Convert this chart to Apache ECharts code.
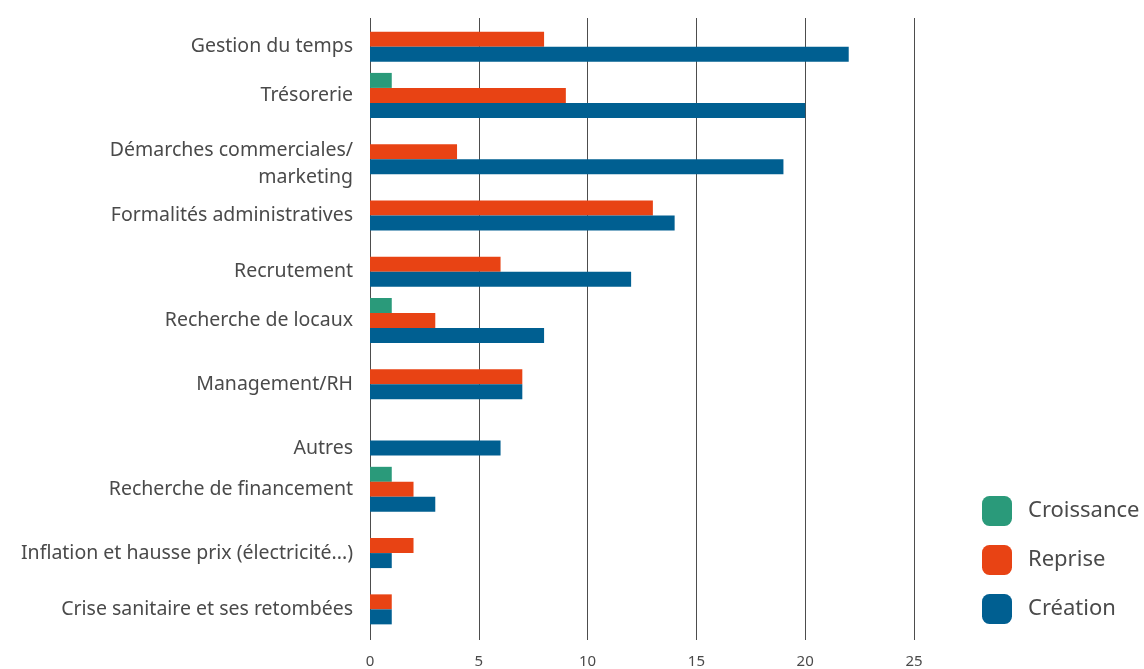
<!DOCTYPE html>
<html><head><meta charset="utf-8">
<script src="https://cdn.jsdelivr.net/npm/echarts@6/dist/echarts.min.js"></script>
<style>html,body{margin:0;padding:0;background:#fff}#c{width:1144px;height:669px}</style>
</head><body><div id="c"></div>
<script>
const categories = ["Gestion du temps","Trésorerie","Démarches commerciales/\nmarketing","Formalités administratives","Recrutement","Recherche de locaux","Management/RH","Autres","Recherche de financement","Inflation et hausse prix (électricité...)","Crise sanitaire et ses retombées"];
const croissance = [0,1,0,0,0,1,0,0,1,0,0];
const reprise = [8,9,4,13,6,3,7,0,2,2,1];
const creation = [22,20,19,14,12,8,7,6,3,1,1];
const xTicks = [0,5,10,15,20,25];
const seriesNames = ["Croissance","Reprise","Création"];
const colors = ["#2a9a7a","#e84314","#005f91"];

const FONT = "Noto Sans";
const allSeries = [croissance, reprise, creation];
function missingLeading(i){ let n=0; for (const s of allSeries){ if (s[i]) break; n++; } return n; }

const base = {fontSize:19.5, color:'#4a4a4a', fontFamily:FONT, lineHeight:26};
const rich = {};
for (let p=0; p<=40; p++) rich['p'+p] = Object.assign({}, base, {padding:[p,0,0,0]});

const chart = echarts.init(document.getElementById('c'));
chart.setOption({
  animation:false,
  textStyle:{fontFamily:FONT},
  legend:{
    orient:'vertical', left:977, top:491, itemWidth:30, itemHeight:30, itemGap:19,
    icon:'roundRect',
    textStyle:{fontSize:22, color:'#4a4a4a', fontFamily:FONT, padding:[0,0,0,11]},
    data:seriesNames
  },
  grid:[
    {left:370, right:230, top:18, bottom:29},
    {left:370, right:230, top:11, bottom:39}
  ],
  xAxis:[
    {gridIndex:0, type:'value', min:xTicks[0], max:xTicks[xTicks.length-1], interval:xTicks[1]-xTicks[0],
     axisLine:{show:false}, axisTick:{show:false},
     splitLine:{show:true, lineStyle:{color:'#4d4d4d', width:1}},
     axisLabel:{fontSize:15, color:'#4a4a4a', margin:14, fontFamily:FONT}},
    {gridIndex:1, type:'value', min:xTicks[0], max:xTicks[xTicks.length-1], show:false, splitLine:{show:false}}
  ],
  yAxis:[
    {gridIndex:0, type:'value', min:0, max:1, show:false},
    {gridIndex:1, type:'category', inverse:true, data:categories,
     axisLine:{show:false}, axisTick:{show:false},
     axisLabel:{
       margin:17, fontSize:19.5, color:'#4a4a4a', fontFamily:FONT, lineHeight:26, align:'right',
       formatter:function(v){
         const i = categories.indexOf(v);
         const m = missingLeading(i);
         const lines = v.split('\n');
         const pad = 15*m + (lines.length-1)*9;
         return lines.map((l,k)=> '{p'+(k===0?pad:26)+'|'+l+'}').join('\n');
       },
       rich:rich
     }}
  ],
  series: seriesNames.map((n,k)=>({
    name:n, type:'bar', xAxisIndex:1, yAxisIndex:1,
    data:allSeries[k], barWidth:15, barGap:'0%',
    itemStyle:{color:colors[k]}
  }))
});
</script></body></html>
